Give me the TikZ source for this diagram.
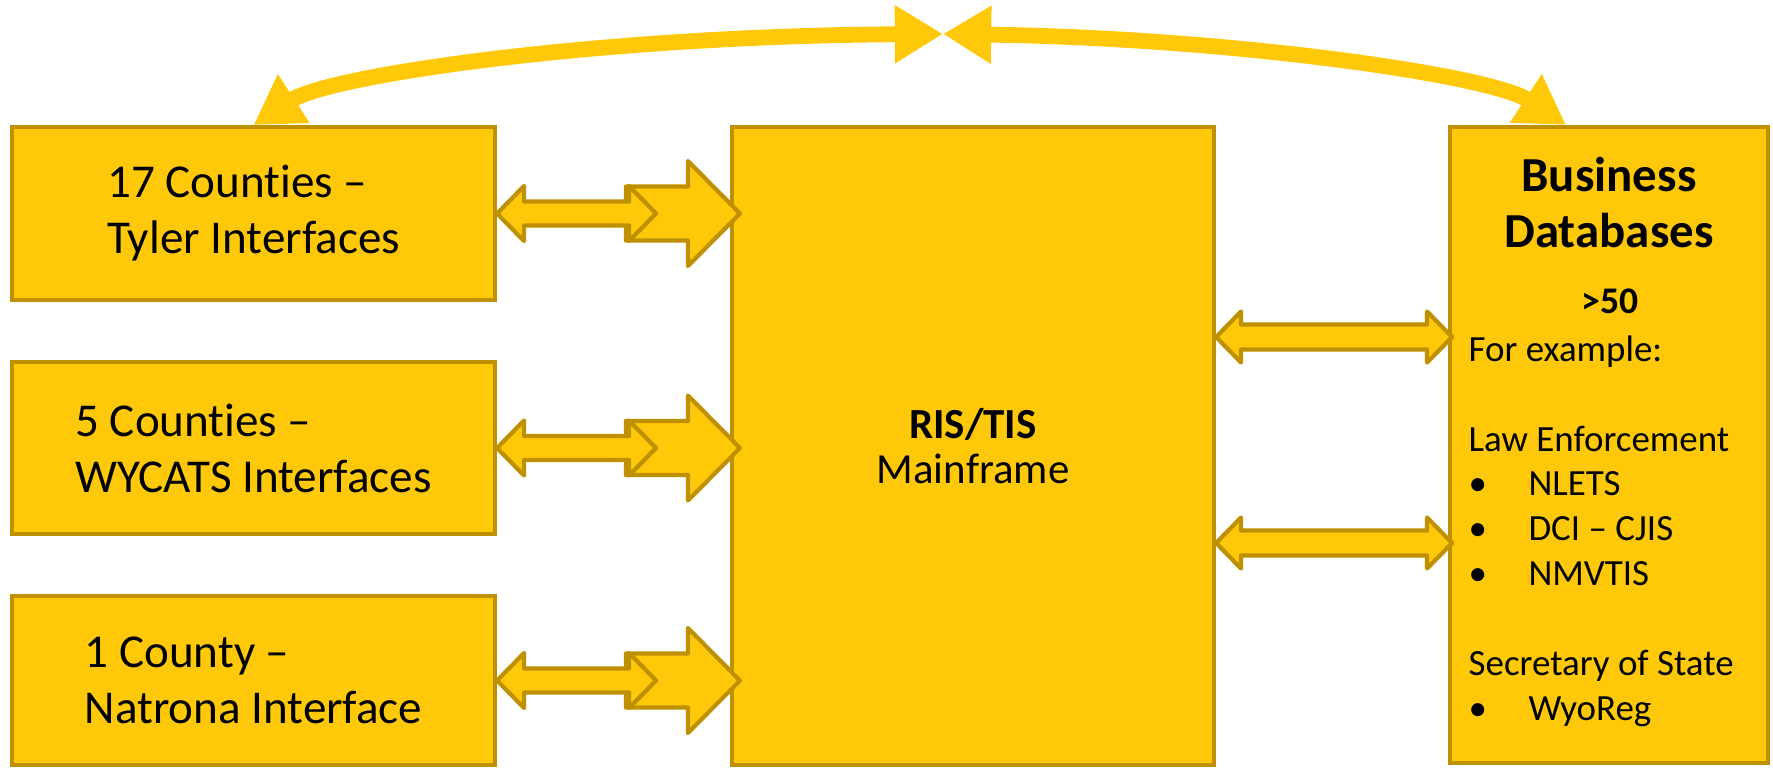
\documentclass[tikz,border=0pt]{standalone}
\usepackage{fontspec}
\setmainfont{Carlito}[Ligatures={TeX,NoCommon}]
\usetikzlibrary{arrows.meta,calc}
\definecolor{boxfill}{HTML}{FFC90A}
\definecolor{boxline}{HTML}{BF9000}
\tikzset{
  box/.style={rectangle, draw=boxline, fill=boxfill, line width=1.1pt},
  blockarrow/.style={draw=boxline, fill=boxfill, line width=1.2pt, line join=round},
  toparc/.style={draw=boxfill, line width=4.5pt, {Triangle[length=13.7pt,width=15.6pt]}-{Triangle[length=13.7pt,width=15.6pt]}},
  cnty/.style={font=\fontsize{13.4}{15.9}\selectfont, align=left},
  item/.style={font=\fontsize{10.5}{12.75}\selectfont, align=left, inner sep=0pt},
}
\newcommand{\bul}{\makebox[17pt][l]{\textbullet}}
\begin{document}
\begin{tikzpicture}[x=0.01cm, y=-0.01cm]
  \useasboundingbox (0,0) rectangle (1773,769);
  % Nodes
  \node (c17) [box, cnty, minimum width=4.83cm, minimum height=1.73cm] at (253.5,213.5) {17 Counties --\\Tyler Interfaces};
  \node (c5) [box, cnty, minimum width=4.83cm, minimum height=1.72cm] at (253.5,448) {5 Counties --\\WYCATS Interfaces};
  \node (c1) [box, cnty, minimum width=4.83cm, minimum height=1.69cm] at (253.5,680.5) {1 County --\\Natrona Interface};
  \node (ris) [box, align=center, font=\fontsize{12.2}{12.8}\selectfont, minimum width=4.82cm, minimum height=6.38cm] at (973,446) {\textbf{RIS/TIS}\\Mainframe};
  \node (biz) [box, minimum width=3.18cm, minimum height=6.36cm] at (1609,445) {};
  \node (biztitle) [anchor=north, inner sep=0pt, align=center, font=\bfseries\fontsize{13.9}{16.2}\selectfont] at (1609,156) {Business\\Databases};
  \node (bizcount) [anchor=base, inner sep=0pt, font=\bfseries\fontsize{10.7}{12.75}\selectfont] at (1610,313) {>50};
  \node (bizlist) [item, anchor=north west] at (1468,335) {For example:\\[12.75pt]
    Law Enforcement\\
    \bul NLETS\\
    \bul DCI -- CJIS\\
    \bul NMVTIS\\[12.75pt]
    Secretary of State\\
    \bul WyoReg};
  % Arrows to the mainframe
  \draw[blockarrow] ($(ris.west |- c17.east)+(10,0)$) -- ++(-52,-52.5) -- ++(0,25.5) -- ++(-62,0) -- ++(0,54) -- ++(62,0) -- ++(0,25.5) -- cycle;
  \draw[blockarrow] ($(ris.west |- c5.east)+(10,0)$) -- ++(-52,-52.5) -- ++(0,25.5) -- ++(-62,0) -- ++(0,54) -- ++(62,0) -- ++(0,25.5) -- cycle;
  \draw[blockarrow] ($(ris.west |- c1.east)+(10,0)$) -- ++(-52,-52.5) -- ++(0,25.5) -- ++(-62,0) -- ++(0,54) -- ++(62,0) -- ++(0,25.5) -- cycle;
  \draw[blockarrow] (c17.east) -- ++(27,-27.5) -- ++(0,15.5) -- ++(105,0) -- ++(0,-15.5) -- ++(27,27.5) -- ++(-27,27.5) -- ++(0,-15.5) -- ++(-105,0) -- ++(0,15.5) -- cycle;
  \draw[blockarrow] (c5.east) -- ++(27,-27.5) -- ++(0,15.5) -- ++(105,0) -- ++(0,-15.5) -- ++(27,27.5) -- ++(-27,27.5) -- ++(0,-15.5) -- ++(-105,0) -- ++(0,15.5) -- cycle;
  \draw[blockarrow] (c1.east) -- ++(27,-27.5) -- ++(0,15.5) -- ++(105,0) -- ++(0,-15.5) -- ++(27,27.5) -- ++(-27,27.5) -- ++(0,-15.5) -- ++(-105,0) -- ++(0,15.5) -- cycle;
  % Arrows to the databases
  \draw[blockarrow] ($(ris.east)+(0,-109)$) -- ++(25,-25.5) -- ++(0,13) -- ++(186,0) -- ++(0,-13) -- ++(25,25.5) -- ++(-25,25.5) -- ++(0,-13) -- ++(-186,0) -- ++(0,13) -- cycle;
  \draw[blockarrow] ($(ris.east)+(0,97)$) -- ++(25,-25.5) -- ++(0,13) -- ++(186,0) -- ++(0,-13) -- ++(25,25.5) -- ++(-25,25.5) -- ++(0,-13) -- ++(-186,0) -- ++(0,13) -- cycle;
  % Top arc
  \coordinate (meet) at (943,34);
  \draw[toparc] (meet) .. controls (600,36) and (330,75) .. (c17.north);
  \draw[toparc] (meet) .. controls (1230,38) and (1490,75) .. ($(biz.north west)+(118,0)$);
\end{tikzpicture}
\end{document}
